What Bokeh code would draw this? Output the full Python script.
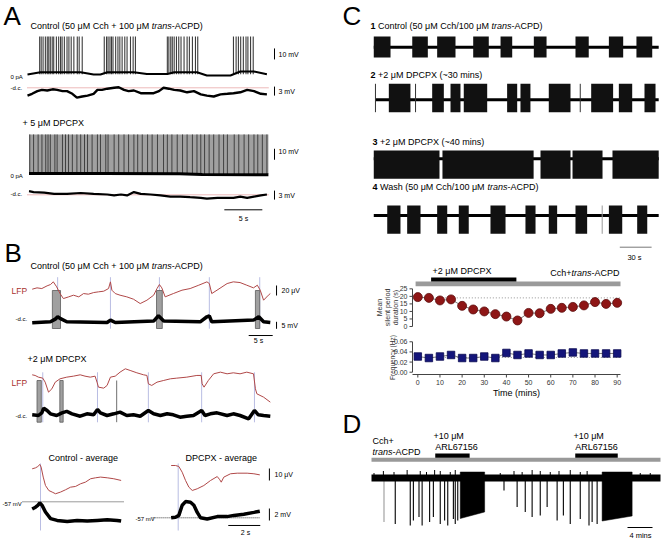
import numpy as np
from bokeh.plotting import figure
from bokeh.models import Range1d
from bokeh.core.properties import value
from bokeh.embed import file_html
from bokeh.resources import INLINE

FONT = "Liberation Sans"
LFP_RED = "#b04848"
EVT = "#b9bde3"
AXC = "#444444"

# ================= DATA =================
# ---- Panel A: control (s, mV) ----
a_ctrl_spike_t = [1.6, 1.8, 2.05, 2.35, 2.6, 2.8, 3.0, 3.25, 3.45, 3.8, 4.1, 4.35, 4.55, 4.85, 5.2, 5.45, 5.75, 6.1, 6.55, 6.8, 7.2,
                  10.1, 10.4, 10.6, 10.85, 11.05, 11.25, 11.6, 11.9, 12.15, 12.45, 12.8, 13.1, 13.55, 13.9, 14.2,
                  18.4, 18.6, 18.85, 19.05, 19.3, 19.6, 19.9, 20.2, 20.6, 21.0, 21.3, 21.7, 22.1, 22.4,
                  27.1, 27.45, 27.75, 28.05, 28.4, 28.75, 29.0, 29.35, 29.7]
a_ctrl_spike_peak = 36.4
a_ctrl_base_t = [0, 1.7, 7.0, 8.7, 9.6, 10.5, 14.0, 15.7, 18.4, 19.3, 22.3, 23.6, 26.7, 28.0, 29.8, 31.5]
a_ctrl_base_mv = [1.8, 3.9, 3.9, 1.8, 1.8, 3.9, 3.9, 2.3, 2.3, 3.9, 3.9, 0.9, 0.9, 4.5, 4.5, 2.0]
a_ctrl_dc_t = [0.0, 0.6, 1.3, 1.9, 2.6, 3.3, 3.9, 4.6, 5.2, 5.9, 6.5, 7.2, 7.9, 8.7, 9.2, 9.8, 10.5, 11.4, 12.0, 12.7,
               13.3, 14.0, 14.9, 15.8, 16.6, 17.3, 17.9, 18.6, 19.3, 20.1, 21.0, 21.9, 22.8, 23.6, 24.5, 25.4, 26.3,
               27.1, 28.0, 28.9, 29.8, 30.7, 31.5]
a_ctrl_dc_mv = [-2.6, -2.0, -1.1, -0.7, -0.9, -0.5, -0.7, -1.1, -1.1, -2.0, -3.3, -2.9, -2.6, -2.0, -0.7, -0.7, -0.3, 0.0,
                0.2, -0.7, -1.1, -0.9, -1.8, -1.8, -1.8, -1.1, 0.0, -0.3, -0.7, -0.9, -1.5, -1.1, -2.2, -2.6, -2.9,
                -2.2, -2.0, -1.8, -1.5, -0.7, -1.1, -2.0, -2.2]
# ---- Panel A: + DPCPX ----
a_dp_train = [0.2, 31.7]
a_dp_spike_t = [0.3, 0.8, 1.4, 1.9, 2.4, 2.7, 3.0, 3.6, 3.9, 4.6, 5.0, 5.4, 5.9, 6.5, 7.0, 7.5, 7.9, 8.5, 9.2, 9.6,
                10.3, 10.6, 11.4, 12.0, 12.7, 13.3, 14.0, 14.5, 15.1, 15.8, 16.4, 17.1, 17.9, 18.4, 19.0, 19.7,
                20.4, 21.0, 21.7, 22.3, 22.8, 23.3, 23.9, 24.5, 25.2, 25.8, 26.3, 27.2, 27.8, 28.5, 29.1, 29.8,
                30.3, 30.9, 31.5]
a_dp_spike_peak = 39.4
a_dp_base_t = [0.2, 10.0, 20.0, 23.0, 31.7]
a_dp_base_mv = [3.9, 4.0, 3.6, 3.0, 2.7]
a_dp_dc_t = [0.2, 0.8, 2.2, 3.5, 5.2, 7.0, 8.7, 10.5, 11.4, 12.3, 13.1, 14.0, 14.9, 16.2, 17.5, 18.8, 20.1, 21.4,
             22.8, 23.6, 25.0, 26.3, 27.1, 28.0, 28.9, 29.8, 30.7, 31.5]
a_dp_dc_mv = [1.2, 0.9, 0.7, 0.3, 0.3, 0.6, 0.3, 0.1, -0.2, 0.1, -0.2, 0.9, 0.3, 0.1, -0.2, -0.6, -0.6, -0.8, -1.0,
              -1.3, -1.0, -1.0, -1.0, -0.6, -1.0, -0.6, -0.2, 0.1]

# ---- Panel B: control (s, uV / mV) ----
b_ctrl_lfp_t = [0, 1.0, 2.0, 3.1, 3.8, 4.4, 5.1, 5.8, 6.5, 7.6, 8.6, 9.7, 10.7, 11.7, 12.8, 13.8, 14.9, 15.9, 16.3,
                16.6, 17.3, 18.3, 19.7, 21.1, 22.5, 23.9, 25.3, 26.0, 26.5, 27.0, 27.7, 29.4, 31.2, 32.9, 34.7,
                36.4, 36.9, 37.4, 38.5, 40.6, 41.9, 43.3, 44.7, 46.1, 46.9, 47.5, 48.2, 49.2, 49.6]
b_ctrl_lfp_uv = [0, 2.7, 1.3, 6.7, 9.3, 14.7, 4.7, -8.7, -18.7, -15.3, -12, -15.3, -8.7, -10, -6.7, -5.3, -4, 1.3,
                 14.7, -2, -8.7, -12, -15.3, -20, -28.7, -22, -12, 1.3, 9.3, 2.7, -15.3, -8.7, -2, 1.3, 8, 14.7,
                 11.3, -8.7, -2, 11.3, 14.7, 13.3, 8, 2.7, 8, -2, -22, -12, -8.7]
b_ctrl_dc_t = [0, 3.8, 4.8, 5.3, 5.8, 7.2, 15.6, 16.3, 17.3, 25.3, 26.3, 27.4, 35.0, 36.4, 36.9, 37.4, 46.1, 47.2, 48.2, 49.6]
b_ctrl_dc_mv = [-0.7, 0, 1.9, 3.6, 2.4, 0, -0.5, 1.2, -0.5, 0.5, 4.3, 0.5, 0, 3.6, 4.3, 0, 1.2, 3.6, 0, -0.5]
b_ctrl_events = [5.3, 16.3, 26.5, 36.9, 47.4]
b_ctrl_burst_start = [4.2, 25.9, 46.5]
b_ctrl_burst_end = [5.9, 27.1, 47.4]
# ---- Panel B: + DPCPX ----
b_dp_lfp_t = [0, 0.6, 1.3, 2.2, 2.7, 3.4, 4.1, 4.8, 5.8, 7.2, 8.6, 10.0, 11.0, 12.1, 13.1, 13.5, 13.8, 14.9, 15.6,
              16.3, 17.3, 18.3, 19.4, 20.4, 21.8, 23.2, 23.9, 24.2, 24.9, 26.0, 27.4, 28.8, 30.1, 32.2, 34.3, 35.2,
              35.4, 35.8, 36.7, 37.8, 39.2, 40.6, 41.9, 43.3, 44.7, 46.1, 46.5, 46.8, 48.2, 49.6]
b_dp_lfp_uv = [0, -1.3, -4.7, -6.7, -14.7, -34.7, -28, -14.7, -8, -4.7, -2.7, 0, -2.7, -4.7, -2.7, -14.7, -24.7,
               -26.7, -21.3, -4.7, -2.7, 5.3, 12, 8.7, 4, 0, -1.3, -18, -21.3, -14.7, -11.3, -8, -6.7, -4.7, -1.3,
               -1.3, -18, -24.7, -11.3, 2, 5.3, 2, 4, 2, 5.3, 2, -28, -38, -44.7, -54.7]
b_dp_dc_t = [0, 1.3, 2.0, 2.4, 3.1, 3.8, 5.1, 6.2, 7.2, 8.3, 10.0, 11.4, 12.8, 13.6, 14.2, 15.6, 17.0, 18.3, 19.7,
             21.1, 22.5, 24.2, 25.3, 26.7, 28.1, 29.4, 30.8, 32.2, 33.6, 35.3, 36.0, 37.1, 38.5, 40.6, 41.9, 43.3,
             45.1, 46.3, 47.1, 48.2, 49.6]
b_dp_dc_mv = [0, -0.5, 1.4, 4.8, 3.1, 0.7, -0.5, 1.4, 2.4, 0.7, -1, 0.7, 0, 3.8, 1.4, -0.5, 0.7, 1.9, -0.5, 0, -1,
              3.1, 0.7, -0.5, 0.7, 0, -1.7, -1, -0.5, 3.1, -0.5, 0.7, 1.4, -0.5, 0.7, -0.5, -2.9, 3.1, 0, -0.5, -1]
b_dp_events = [2.2, 13.6, 24.2, 35.3, 46.3]
b_dp_burst_start = [1.0, 5.75]
b_dp_burst_end = [1.9, 6.45]
b_dp_single = [17.6]
# ---- Panel B: averages (s from event) ----
avg_ctrl_lfp_t = [-0.52, -0.31, -0.17, -0.04, 0.04, 0.17, 0.31, 0.52, 0.73, 0.94, 1.25, 1.56, 1.88, 2.19, 2.5, 2.81,
                  3.13, 3.44, 3.75, 4.17, 4.58, 5.04]
avg_ctrl_lfp_uv = [0, 0.8, 1.9, 3.6, 1.4, -6.9, -13.9, -18.1, -19.4, -20.8, -19.4, -17.5, -15.3, -14.7, -12.5, -11.1,
                   -8.3, -7.5, -6.9, -7.5, -8.3, -9.7]
avg_ctrl_vm_t = [-0.52, -0.31, -0.17, -0.04, 0.1, 0.31, 0.63, 1.04, 1.67, 2.29, 2.92, 3.54, 4.17, 4.79, 5.04]
avg_ctrl_vm = [-58.2, -57.9, -57.6, -57.2, -57.6, -58.7, -59.8, -60.1, -60.3, -60.1, -60.2, -60.1, -60.0, -60.1, -60.2]
avg_dp_lfp_t = [-0.44, -0.17, 0.04, 0.25, 0.46, 0.67, 0.88, 1.19, 1.6, 2.02, 2.44, 2.6, 2.69, 2.85, 3.27, 3.69, 4.31,
                4.73, 5.1]
avg_dp_lfp_uv = [0, 0, -0.8, -5.6, -12.5, -18.1, -20.8, -19.4, -16.7, -12.5, -9.2, -11.9, -13.9, -9.7, -6.9, -6.4,
                 -6.4, -6.9, -7.8]
avg_dp_vm_t = [-0.44, -0.17, 0.04, 0.25, 0.46, 0.77, 0.98, 1.19, 1.4, 1.81, 2.44, 3.06, 3.48, 4.1, 4.73, 5.1]
avg_dp_vm = [-57.0, -56.9, -56.6, -54.9, -54.3, -54.4, -54.9, -56.1, -57.0, -57.2, -56.8, -56.8, -56.6, -56.4, -56.1, -55.9]
vm_ref = -57

# ---- Panel C: burst intervals (s) ----
c_len = 270
c1_start = [1.2, 37.5, 61, 95, 120.8, 152.2, 191.5, 223, 249]
c1_end = [17, 52.2, 78.3, 109.7, 131.8, 164.2, 204, 236.5, 263.9]
c2_start = [15.4, 56.3, 73.6, 86.1, 127, 139.6, 166.3, 206.3, 232.4, 256.6]
c2_end = [35.8, 67.3, 83, 108.2, 136.5, 149, 186.8, 227, 245, 267]
c2_single = [2.8, 40.6, 196]
c3_start = [1.2, 66, 158.5, 188.7, 226.4]
c3_end = [63.2, 152, 186.8, 217, 270]
c4_start = [13.9, 32.7, 61, 81.4, 111.3, 144.3, 166.3, 191.5, 223, 249.7]
c4_end = [26.4, 45.3, 70.5, 90.8, 125.5, 153.8, 174.2, 202.5, 235.6, 259.2]
c4_single = [216.7]

# ---- Panel C: summary chart ----
time_min = [0, 5, 10, 15, 20, 25, 30, 35, 40, 45, 50, 55, 60, 65, 70, 75, 80, 85, 90]
silent_s = [19.5, 19.0, 17.3, 18.0, 13.7, 11.3, 10.0, 8.2, 6.6, 4.0, 9.0, 8.8, 11.7, 12.4, 13.0, 14.0, 16.2, 15.0, 15.7]
freq_hz = [0.031, 0.028, 0.031, 0.034, 0.028, 0.028, 0.031, 0.028, 0.038, 0.034, 0.037, 0.034, 0.034, 0.037, 0.039,
           0.037, 0.037, 0.037, 0.037]
silent_ref = 19.0
freq_ref = 0.029
silent_ticks = [0, 5, 10, 15, 20, 25]
silent_labels = ["0", "5", "10", "15", "20", "25"]
freq_ticks = [0.0, 0.02, 0.04, 0.06]
freq_labels = ["0.00", "0.02", "0.04", "0.06"]
time_ticks = [0, 10, 20, 30, 40, 50, 60, 70, 80, 90]
time_labels = ["0", "10", "20", "30", "40", "50", "60", "70", "80", "90"]
dpcpx_period = [6.0, 44.5]
cch_period = [-1.0, 91.5]

# ---- Panel D (min, arbitrary amplitude) ----
d_len = 46.24
arl_start = [10.2, 32.6]
arl_end = [15.7, 39.4]
d_up_t = [0.4, 1.9, 3.6, 5.7, 7.8, 8.8, 10.1, 11.0, 12.6, 13.4, 20.6, 22.8, 24.1, 25.7, 27.0, 28.6, 30.0, 31.8, 33.4,
          34.5, 43.0, 44.6]
d_up_amp = [5, 7, 6, 8, 7, 6, 8, 7, 6, 8, 5, 7, 6, 8, 7, 6, 7, 8, 6, 7, 5, 5]
d_down_t = [2.0, 3.8, 6.2, 6.7, 7.6, 8.1, 9.3, 9.9, 11.0, 11.7, 12.2, 13.1, 13.4, 13.8, 21.2, 23.3, 24.6, 25.7, 27.0,
            28.1, 29.7, 30.7, 31.8, 33.4, 34.8, 35.3, 36.1]
d_down_amp = [-44, -46, -47.5, -42.5, -39, -47.5, -44, -39, -46, -42.5, -47.5, -41, -46, -42.5, -12.5, -29, -34, -39,
              -37.5, -29, -42.5, -37.5, -46, -41, -47.5, -44, -46]
d_dense_start = [14.2, 36.9]
d_dense_end = [18.1, 41.7]
d_dense_depth_start = [-40.5, -43]
d_dense_depth_end = [-34, -38]

# ================= HELPERS =================
AW = {}
for ch, w in zip(" ()+-/.~:,", [278, 333, 333, 584, 333, 278, 278, 584, 278, 278]):
    AW[ch] = w
for ch in "0123456789":
    AW[ch] = 556
AW.update(dict(A=667, B=667, C=722, D=722, E=667, F=611, G=778, H=722, I=278, J=500, K=667, L=556, M=833, N=722,
               O=778, P=667, Q=778, R=722, S=667, T=611, U=722, V=667, W=944, X=667, Y=667, Z=611))
AW.update(dict(a=556, b=556, c=500, d=556, e=556, f=278, g=556, h=556, i=222, j=222, k=500, l=222, m=833, n=556,
               o=556, p=556, q=556, r=333, s=500, t=278, u=556, v=500, w=722, x=500, y=500, z=500))
AW["μ"] = 576


def tw(s, fs):
    return sum(AW.get(c, 556) for c in s) * fs / 1000.0


def txt(g, x, y, s, fs, color="black", style="normal", align="left", angle=0):
    g.text(x=[x], y=[y], text=[s], text_font=value(FONT), text_font_size=f"{fs}px", angle=angle,
           text_font_style=style, text_color=color, text_align=align, text_baseline="middle")


def rich(g, x, y, parts, fs, color="black", align="left", ppu=1.0):
    widths = [tw(t, fs) / ppu for t, _ in parts]
    total = sum(widths)
    if align == "right":
        x -= total
    elif align == "center":
        x -= total / 2
    for (t, st), w in zip(parts, widths):
        lead = len(t) - len(t.lstrip(" "))
        s = t.strip(" ")
        if s:
            txt(g, x + tw(" " * lead, fs) / ppu, y, s, fs, color=color, style=st)
        x += w


P = figure(width=661, height=539, x_range=Range1d(0, 661), y_range=Range1d(539, 0),
           output_backend="svg", toolbar_location=None, min_border=0,
           x_axis_type=None, y_axis_type=None, outline_line_color=None)


def sub(xs, xt, ys, yt):
    return P.subplot(x_source=Range1d(*xs), y_source=Range1d(*ys),
                     x_target=Range1d(*xt), y_target=Range1d(*yt))


def vbar(s, x, y0, y1, color="black", w=1):
    s.segment(x0=[x], y0=[y0], x1=[x], y1=[y1], line_color=color, line_width=w)


def hbar(s, x0, x1, y, color="black", w=1):
    s.segment(x0=[x0], y0=[y], x1=[x1], y1=[y], line_color=color, line_width=w)


# ================= PANEL A =================
txt(P, 3, 15, "A", 26)
rich(P, 30, 25, [("Control (50 μM Cch + 100 μM ", "normal"), ("trans", "italic"), ("-ACPD)", "normal")], 9)
sA1 = sub((0, 32), (27, 270.2), (0, 40), (76, 32))
n = len(a_ctrl_spike_t)
sA1.segment(x0=a_ctrl_spike_t, y0=[2] * n, x1=a_ctrl_spike_t, y1=[a_ctrl_spike_peak] * n,
            line_color="#3c3c3c", line_width=1.1)
sA1.line(a_ctrl_base_t, a_ctrl_base_mv, line_color="black", line_width=2)
vbar(sA1, 32.5, 15.5, 25.5)
sA2 = sub((0, 32), (27, 270.2), (-5, 5), (102.3, 72.3))
sA2.line([0, 31.7], [0, 0], line_color="#d05050", line_dash="1 1", line_width=0.8)
sA2.line(a_ctrl_dc_t, a_ctrl_dc_mv, line_color="black", line_width=2.4)
vbar(sA2, 32.5, -2.6, 0.4)
txt(P, 10, 76, "0 pA", 6)
txt(P, 10, 87.5, "-d.c.", 6)
txt(P, 278, 54, "10 mV", 7)
txt(P, 278, 90.5, "3 mV", 7)

txt(P, 22, 122, "+ 5 μM DPCPX", 9)
sA3 = sub((0, 32), (27, 270.2), (0, 40), (177.3, 133.3))
sA3.quad(left=[a_dp_train[0]], right=[a_dp_train[1]], bottom=[3.6], top=[a_dp_spike_peak],
         fill_color="#a0a0a0", line_color=None)
n = len(a_dp_spike_t)
sA3.segment(x0=a_dp_spike_t, y0=[3] * n, x1=a_dp_spike_t, y1=[a_dp_spike_peak] * n,
            line_color="#404040", line_width=1)
sA3.line(a_dp_base_t, a_dp_base_mv, line_color="black", line_width=3)
vbar(sA3, 32.5, 16.4, 26.4)
sA4 = sub((0, 32), (27, 270.2), (-5, 5), (209.3, 179.3))
sA4.line([0, 31.7], [0, 0], line_color="#d05050", line_dash="1 1", line_width=0.8)
sA4.line(a_dp_dc_t, a_dp_dc_mv, line_color="black", line_width=2.2)
vbar(sA4, 32.5, -1.6, 1.4)
hbar(sA4, 25.9, 30.9, -5)
txt(P, 10, 175, "0 pA", 6)
txt(P, 10, 193.5, "-d.c.", 6)
txt(P, 278, 151, "10 mV", 7)
txt(P, 278, 194.5, "3 mV", 7)
txt(P, 243, 218, "5 s", 7, align="center")

# ================= PANEL B =================
txt(P, 4, 252, "B", 26)
rich(P, 30, 265, [("Control (50 μM Cch + 100 μM ", "normal"), ("trans", "italic"), ("-ACPD)", "normal")], 9)
txt(P, 11, 290, "LFP", 8.5, color="#a8322d")
sBL = sub((0, 49.6), (31.7, 269.8), (-40, 20), (308.7, 278.7))
k = len(b_ctrl_events)
sBL.segment(x0=b_ctrl_events, y0=[24] * k, x1=b_ctrl_events, y1=[-79] * k, line_color=EVT, line_width=1)
k = len(b_ctrl_burst_start)
sBL.quad(left=b_ctrl_burst_start, right=b_ctrl_burst_end, bottom=[-78.6] * k, top=[-2.6] * k,
         fill_color="#a0a0a0", line_color="#5c5c5c", line_width=0.8)
sBL.line(b_ctrl_lfp_t, b_ctrl_lfp_uv, line_color=LFP_RED, line_width=1)
vbar(sBL, 50.9, -12.6, 7.4)
sBD = sub((0, 49.6), (31.7, 269.8), (-5, 10), (328.3, 307.3))
sBD.line(b_ctrl_dc_t, b_ctrl_dc_mv, line_color="black", line_width=3.5)
vbar(sBD, 50.9, -5, 0)
hbar(sBD, 45.1, 50.1, -9.8)
txt(P, 15, 318, "-d.c.", 6)
txt(P, 281, 290, "20 μV", 7)
txt(P, 281, 325, "5 mV", 7)
txt(P, 258, 340, "5 s", 7, align="center")

txt(P, 27, 358, "+2 μM DPCPX", 9)
txt(P, 11, 382, "LFP", 8.5, color="#a8322d")
sBL2 = sub((0, 49.6), (31.7, 269.8), (-60, 20), (404.3, 364.3))
k = len(b_dp_events)
sBL2.segment(x0=b_dp_events, y0=[5] * k, x1=b_dp_events, y1=[-95] * k, line_color=EVT, line_width=1)
k = len(b_dp_burst_start)
sBL2.quad(left=b_dp_burst_start, right=b_dp_burst_end, bottom=[-94.8] * k, top=[-11.4] * k,
          fill_color="#a0a0a0", line_color="#5c5c5c", line_width=0.8)
k = len(b_dp_single)
sBL2.segment(x0=b_dp_single, y0=[-11.4] * k, x1=b_dp_single, y1=[-94.8] * k, line_color="#707070", line_width=1)
sBL2.line(b_dp_lfp_t, b_dp_lfp_uv, line_color=LFP_RED, line_width=1)
sBD2 = sub((0, 49.6), (31.7, 269.8), (-5, 10), (421.3, 400.3))
sBD2.line(b_dp_dc_t, b_dp_dc_mv, line_color="black", line_width=3.5)
txt(P, 15, 415, "-d.c.", 6)

# averages
txt(P, 48, 457, "Control - average", 9)
txt(P, 185, 457, "DPCPX - average", 9)
sCr = sub((-1.5, 5.5), (16, 128), (-30, 10), (504.3, 456.3))
vbar(sCr, 0, 4.4, -51.4, color=EVT)
sCr.line(avg_ctrl_lfp_t, avg_ctrl_lfp_uv, line_color=LFP_RED, line_width=1)
sCb = sub((-1.5, 5.5), (16, 128), (-62, -55), (531.3, 489.3))
sCb.line([-1.125, 5.19], [vm_ref, vm_ref], line_color="black", line_dash="1 1", line_width=0.8)
sCb.line(avg_ctrl_vm_t, avg_ctrl_vm, line_color="black", line_width=3.5)
txt(P, 2, 503, "-57 mV", 6)

sDr = sub((-1.5, 5.5), (153.7, 265.7), (-30, 10), (501, 453))
vbar(sDr, 0, 1.7, -54.2, color=EVT)
sDr.line(avg_dp_lfp_t, avg_dp_lfp_uv, line_color=LFP_RED, line_width=1)
sDb = sub((-1.5, 5.5), (153.7, 265.7), (-62, -52), (547.3, 487.3))
sDb.line([-1.6, 5.08], [vm_ref, vm_ref], line_color="black", line_dash="1 1", line_width=0.8)
sDb.line(avg_dp_vm_t, avg_dp_vm, line_color="black", line_width=3.5)
txt(P, 135, 518.5, "-57 mV", 6)
vbar(sDr, 5.7, -12.5, -2.5)
vbar(sDb, 5.7, -57.45, -55.45)
hbar(sDb, 3.13, 5.13, -58.28)
txt(P, 274, 474, "10 μV", 7)
txt(P, 274, 514, "2 mV", 7)
txt(P, 245, 531.5, "2 s", 7, align="center")

# ================= PANEL C: traces =================
txt(P, 342, 15, "C", 26)


def c_trace(center, up, down, starts, ends, singles=None, single_color="#333333", t0=1.2):
    s = sub((0, c_len), (372, 372 + c_len * 1.06), (-30, 30), (center + 30, center - 30))
    s.line([t0, c_len], [0, 0], line_color="black", line_width=3)
    k = len(starts)
    s.quad(left=starts, right=ends, bottom=[-down] * k, top=[up] * k, fill_color="#111111", line_color=None)
    if singles:
        k = len(singles)
        s.segment(x0=singles, y0=[-down] * k, x1=singles, y1=[up] * k, line_color=single_color, line_width=1)
    return s


rich(P, 370, 25, [("1", "bold"), (" Control (50 μM Cch/100 μM ", "normal"), ("trans", "italic"),
                  ("-ACPD)", "normal")], 9)
c_trace(46.7, 10.7, 10.3, c1_start, c1_end)
rich(P, 370, 74, [("2", "bold"), (" +2 μM DPCPX (~30 mins)", "normal")], 9)
c_trace(99.3, 16, 12.4, c2_start, c2_end, c2_single, t0=2.8)
rich(P, 372, 141, [("3", "bold"), (" +2 μM DPCPX (~40 mins)", "normal")], 9)
c_trace(158.3, 8.3, 20, c3_start, c3_end)
rich(P, 372, 186, [("4", "bold"), (" Wash (50 μM Cch/100 μM ", "normal"), ("trans", "italic"),
                   ("-ACPD)", "normal")], 9)
s4 = c_trace(215, 10, 18.3, c4_start, c4_end, c4_single, single_color="#999999")
hbar(s4, 233.3, 263.3, -31.7, color="#777777")
txt(P, 634, 256.5, "30 s", 7.5, align="center")

# ================= PANEL C: summary chart =================
PPX = 208 / 93.9  # px per minute
X0 = -2.4
sT = sub((X0, 91.5), (412, 620), (-2, 40.5), (329, 265))
sT.quad(left=[cch_period[0]], right=[cch_period[1]], bottom=[26.7], top=[29.84], fill_color="#9a9a9a", line_color=None)
sT.quad(left=[dpcpx_period[0]], right=[dpcpx_period[1]], bottom=[29.84], top=[32.5], fill_color="black", line_color=None)
sT.text(x=[dpcpx_period[0] + 0.6], y=[37.1], text=["+2 μM DPCPX"], text_font=value(FONT), text_font_size="9px",
        text_baseline="middle", text_align="left", text_color="black")
rich(sT, cch_period[1] - 0.5, 35.8, [("Cch+", "normal"), ("trans", "italic"), ("-ACPD", "normal")], 9,
     align="right", ppu=PPX)
# y axis (top chart)
k = len(silent_ticks)
sT.segment(x0=[X0], y0=[silent_ticks[0]], x1=[X0], y1=[silent_ticks[-1]], line_color=AXC, line_width=1)
sT.segment(x0=[X0] * k, y0=silent_ticks, x1=[X0 - 3 / PPX] * k, y1=silent_ticks, line_color=AXC, line_width=1)
sT.text(x=[X0 - 5 / PPX] * k, y=silent_ticks, text=silent_labels, text_font=value(FONT), text_font_size="7px",
        text_color="#333333", text_align="right", text_baseline="middle")
sT.line([0, 91.5], [silent_ref, silent_ref], line_color="#777777", line_dash="1 2", line_width=0.8)
sT.line(time_min, silent_s, line_color="#7a7a7a", line_width=1)
sT.scatter(time_min, silent_s, marker="circle", size=9, fill_color="#8e1616", line_color="#5c0c0c", line_width=0.8)
for xx, lab in zip([379, 387, 395], ["Mean", "silent period", "duration (s)"]):
    txt(P, xx, 307, lab, 7, color="#333333", align="center", angle=np.pi / 2)

sB = sub((X0, 91.5), (412, 620), (-0.0045, 0.0665), (374, 338))
PPY = 36 / 0.071
k = len(freq_ticks)
sB.segment(x0=[X0], y0=[freq_ticks[0]], x1=[X0], y1=[freq_ticks[-1]], line_color=AXC, line_width=1)
sB.segment(x0=[X0] * k, y0=freq_ticks, x1=[X0 - 3 / PPX] * k, y1=freq_ticks, line_color=AXC, line_width=1)
sB.text(x=[X0 - 5 / PPX] * k, y=freq_ticks, text=freq_labels, text_font=value(FONT), text_font_size="7px",
        text_color="#333333", text_align="right", text_baseline="middle")
YB = -0.0045
k = len(time_ticks)
sB.segment(x0=[X0], y0=[YB], x1=[91.5], y1=[YB], line_color=AXC, line_width=1)
sB.segment(x0=time_ticks, y0=[YB] * k, x1=time_ticks, y1=[YB - 3 / PPY] * k, line_color=AXC, line_width=1)
sB.text(x=time_ticks, y=[YB - 8 / PPY] * k, text=time_labels, text_font=value(FONT), text_font_size="7px",
        text_color="#333333", text_align="center", text_baseline="middle")
txt(P, 516, 392, "Time (mins)", 9, align="center")
txt(P, 392, 357, "Frequency (Hz)", 6.5, color="#333333", align="center", angle=np.pi / 2)
sB.line([0, 91.5], [freq_ref, freq_ref], line_color="#777777", line_dash="1 2", line_width=0.8)
sB.line(time_min, freq_hz, line_color="#7a7a7a", line_width=1)
sB.scatter(time_min, freq_hz, marker="square", size=7.5, fill_color="#14157a", line_color="#0a0a50", line_width=0.8)

# ================= PANEL D =================
txt(P, 342, 423, "D", 26)
txt(P, 372, 440, "Cch+", 9)
rich(P, 372, 451, [("trans", "italic"), ("-ACPD", "normal")], 9)
sD = sub((0, d_len), (371, 660), (-50, 50), (527.5, 427.5))
sD.quad(left=[0], right=[d_len], bottom=[16.2], top=[20.2], fill_color="#999999", line_color=None)
k = len(arl_start)
sD.quad(left=arl_start, right=arl_end, bottom=[20.2] * k, top=[24.5] * k, fill_color="black", line_color=None)
sD.text(x=[a - 0.3 for a in arl_start], y=[42.5] * k, text=["+10 μM"] * k, text_font=value(FONT),
        text_font_size="9px", text_baseline="middle", text_align="left")
sD.text(x=arl_start, y=[31.5] * k, text=["ARL67156"] * k, text_font=value(FONT),
        text_font_size="9px", text_baseline="middle", text_align="left")
k = len(d_down_t)
cols = ["#9a9a9a"] + ["black"] * (k - 1)
sD.segment(x0=d_down_t, y0=[0] * k, x1=d_down_t, y1=d_down_amp, line_color=cols, line_width=1.1)
k = len(d_up_t)
sD.segment(x0=d_up_t, y0=[0] * k, x1=d_up_t, y1=d_up_amp, line_color="black", line_width=1)
sD.patches(xs=[[a, b, b, a] for a, b in zip(d_dense_start, d_dense_end)],
           ys=[[6, 6, e, s] for s, e in zip(d_dense_depth_start, d_dense_depth_end)],
           fill_color="black", line_color="black", line_width=0.5)
sD.line([0, d_len], [0, 0], line_color="black", line_width=7)
hbar(sD, 40.96, 44.96, -49.5)
txt(P, 640, 535, "4 mins", 7.5, align="center")

open("out.html", "w").write(file_html(P, INLINE))
